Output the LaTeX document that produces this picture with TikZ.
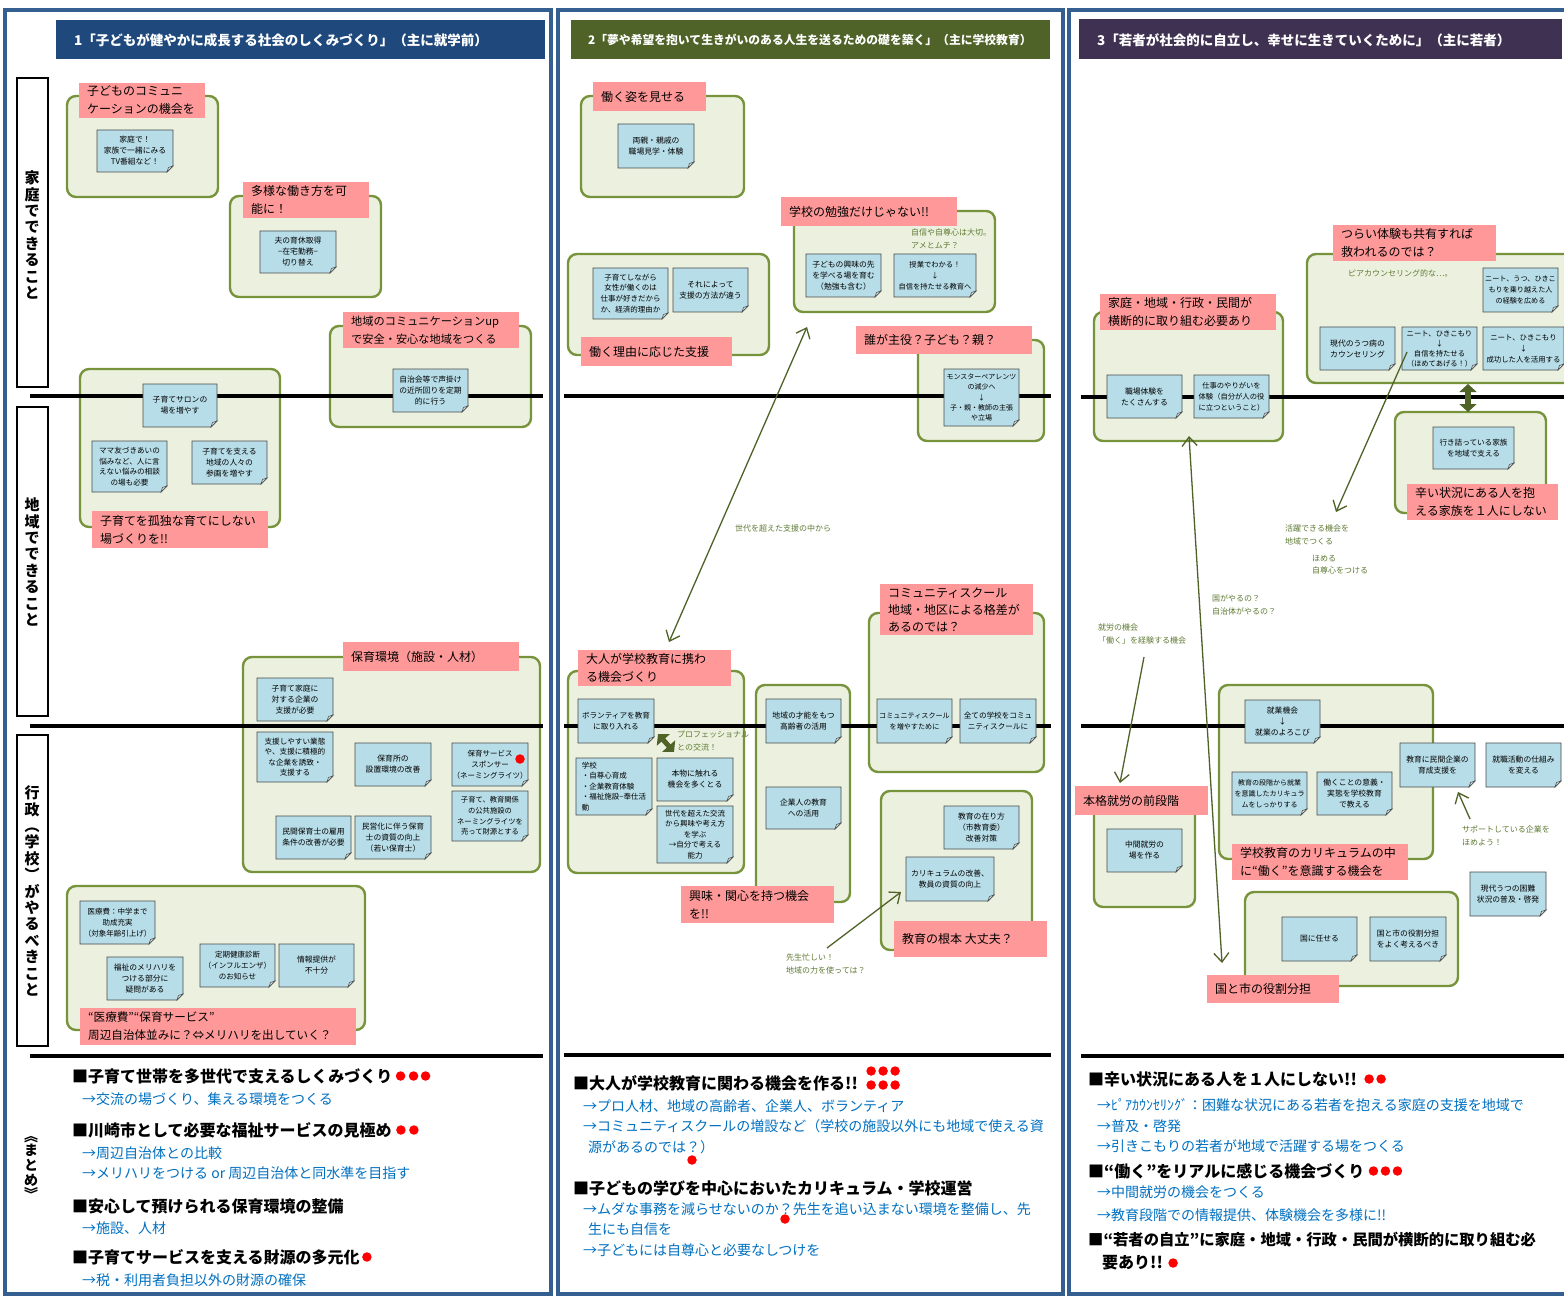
\documentclass[tikz,border=0pt]{standalone}
\usepackage{fontspec}
\setmainfont{Noto Sans CJK JP}
\usetikzlibrary{arrows.meta}
\definecolor{panelblue}{HTML}{365F91}
\definecolor{tone}{HTML}{1F497D}
\definecolor{ttwo}{HTML}{4F6228}
\definecolor{tthree}{HTML}{3F3151}
\definecolor{grpfill}{HTML}{EBF1DE}
\definecolor{grpedge}{HTML}{77933C}
\definecolor{pinkfill}{HTML}{FF9999}
\definecolor{notefill}{HTML}{B7DDE8}
\definecolor{noteedge}{HTML}{4A4A4A}
\definecolor{foldfill}{HTML}{DCEBF0}
\definecolor{annogreen}{HTML}{5F7A34}
\definecolor{arrowgreen}{HTML}{4F6228}
\definecolor{sumblue}{HTML}{0070C0}
\definecolor{dotred}{HTML}{FF0000}
\tikzset{
 panel/.style={draw=panelblue, line width=4.5pt, fill=white},
 gbox/.style={draw=grpedge, fill=grpfill, line width=2.4pt, rounded corners=9pt, inner sep=0pt},
 pinkbox/.style={fill=pinkfill, draw=none, inner sep=0pt},
 pinktext/.style={font=\fontsize{12}{18}\selectfont, align=left, inner sep=0pt, text=black},
 notebody/.style={fill=notefill, draw=noteedge, line width=0.8pt},
 notefold/.style={fill=foldfill, draw=noteedge, line width=0.6pt},
 notetext/.style={font=\fontsize{7.8}{11}\selectfont, align=center, inner sep=0pt},
 anno/.style={font=\fontsize{8}{12.5}\selectfont, text=annogreen, align=left, inner sep=0pt},
 arr/.style={draw=arrowgreen, line width=1.3pt, >={Straight Barb[length=9pt,width=15pt]}},
 fatarr/.style={draw=arrowgreen, line width=6pt, {Triangle[length=8pt,width=17pt]}-{Triangle[length=8pt,width=17pt]}},
 sumhead/.style={font=\fontsize{16}{20}\selectfont\bfseries, anchor=west, inner sep=0pt},
 sumblue/.style={font=\fontsize{14}{18}\selectfont, text=sumblue, anchor=west, inner sep=0pt},
 reddot/.style={circle, fill=dotred, minimum size=9.5pt, inner sep=0pt},
 hline/.style={line width=3.5pt, draw=black},
 titlebar/.style={inner sep=0pt, draw=none},
 titletext/.style={font=\fontsize{13.5}{16}\selectfont\bfseries, text=white, anchor=west, inner sep=0pt},
 vlab/.style={draw=black, line width=2pt, fill=white, inner sep=0pt},
 vtxt/.style={font=\fontsize{15}{16.4}\selectfont\bfseries, align=center, inner sep=0pt},
}
\newcommand\gbox[5]{\node[gbox, minimum width={(#4)-(#2)}, minimum height={(#5)-(#3)}] (#1) at ({((#2)+(#4))/2},{((#3)+(#5))/2}) {};}
\newcommand\snote[7][]{%
 \filldraw[notebody] (#3,#4) -- (#5,#4) -- (#5,{#6-6}) -- ({#5-6},#6) -- (#3,#6) -- cycle;
 \filldraw[notefold] (#5,{#6-6}) -- ({#5-6},#6) -- ({#5-4.5},{#6-4.5}) -- cycle;
 \node[notetext,#1] (#2) at ({(#3+#5)/2},{(#4+#6)/2}) {#7};}
\newcommand\plab[7][]{%
 \node[pinkbox, minimum width={(#5)-(#3)}, minimum height={(#6)-(#4)}] (#2) at ({(#3+#5)/2},{(#4+#6)/2}) {};
 \node[pinktext, anchor=west, #1] (#2t) at ({#3+8},{(#4+#6)/2}) {#7};}
\begin{document}
\begin{tikzpicture}[x=1pt,y=-1pt]
\useasboundingbox (0,0) rectangle (1564,1297);
\fill[white] (0,0) rectangle (1564,1297);
\clip (0,0) rectangle (1564,1297);
% panels
\draw[panel] (5,10) rectangle (551,1294);
\draw[panel] (558,10) rectangle (1063,1294);
\draw[panel] (1069,10) rectangle (1585,1294);
% title bars
\node[titlebar, fill=tone, minimum width=489, minimum height=39] (tb1) at (300.5,39.5) {};
\node[titletext] (tb1t) at (74,40) {1「子どもが健やかに成長する社会のしくみづくり」（主に就学前）};
\node[titlebar, fill=ttwo, minimum width=479, minimum height=39] (tb2) at (810.5,39.5) {};
\node[titletext, font=\fontsize{11.8}{16}\selectfont\bfseries] (tb2t) at (588,40) {2「夢や希望を抱いて生きがいのある人生を送るための礎を築く」（主に学校教育）};
\node[titlebar, fill=tthree, minimum width=483, minimum height=40] (tb3) at (1320.5,39) {};
\node[titletext, font=\fontsize{13.5}{16}\selectfont\bfseries] (tb3t) at (1097,40) {3「若者が社会的に自立し、幸せに生きていくために」（主に若者）};
% vertical labels
\node[vlab, minimum width=31, minimum height=309] (vl1) at (32,232.5) {};
\node[vtxt] (vl1t) at (32,235) {家\\庭\\で\\で\\き\\る\\こ\\と};
\node[vlab, minimum width=31, minimum height=309] (vl2) at (32,561.5) {};
\node[vtxt] (vl2t) at (32,562) {地\\域\\で\\で\\き\\る\\こ\\と};
\node[vlab, minimum width=31, minimum height=311] (vl3) at (32,890.5) {};
\node[vtxt] (vl3t) at (32,891) {行\\政\\︵\\学\\校\\︶\\が\\や\\る\\べ\\き\\こ\\と};
\node[vtxt, font=\fontsize{14}{14.6}\selectfont\bfseries] (mtm) at (31,1168) {︽\\ま\\と\\め\\︾};

% ===== group boxes =====
\gbox{bA}{67}{96}{218}{197}
\gbox{bB}{230}{196}{381}{297}
\gbox{bC}{330}{326}{531}{427}
\gbox{bD}{80}{369}{280}{527}
\gbox{bE}{243}{657}{540}{872}
\gbox{bF}{67}{886}{365}{1030}
\gbox{bG}{581}{96}{744}{197}
\gbox{bH}{568}{254}{769}{355}
\gbox{bI}{794}{211}{995}{312}
\gbox{bJ}{918}{340}{1044}{441}
\gbox{bK}{568}{671}{744}{873}
\gbox{bL}{756}{685}{850}{902}
\gbox{bM}{869}{613}{1044}{772}
\gbox{bN}{881}{791}{1032}{950}
\gbox{bO}{1094}{312}{1283}{441}
\gbox{bP}{1307}{254}{1585}{383}
\gbox{bQ}{1395}{412}{1546}{513}
\gbox{bR}{1094}{795}{1195}{907}
\gbox{bS}{1219}{685}{1433}{859}
\gbox{bT}{1245}{892}{1458}{986}

% ===== horizontal lines =====
\coordinate (h1a) at (30,396); \coordinate (h1b) at (543,396);
\coordinate (h2a) at (30,726); \coordinate (h2b) at (543,726);
\coordinate (h3a) at (30,1056); \coordinate (h3b) at (543,1056);
\coordinate (h4a) at (564,396); \coordinate (h4b) at (1051,396);
\coordinate (h5a) at (564,726); \coordinate (h5b) at (1051,726);
\coordinate (h6a) at (564,1055); \coordinate (h6b) at (1051,1055);
\coordinate (h7a) at (1081,397); \coordinate (h7b) at (1564,397);
\coordinate (h8a) at (1081,726); \coordinate (h8b) at (1564,726);
\coordinate (h9a) at (1081,1056); \coordinate (h9b) at (1564,1056);
\draw[hline] (h1a) -- (h1b); \draw[hline] (h2a) -- (h2b); \draw[hline] (h3a) -- (h3b);
\draw[hline] (h4a) -- (h4b); \draw[hline] (h5a) -- (h5b); \draw[hline] (h6a) -- (h6b);
\draw[hline] (h7a) -- (h7b); \draw[hline] (h8a) -- (h8b); \draw[hline] (h9a) -- (h9b);

% ===== column 1 notes =====
\snote{nA}{97}{130}{173}{172}{家庭で！\\家族で一緒にみる\\TV番組など！}
\snote{nB}{260}{231}{336}{273}{夫の育休取得\\−在宅勤務−\\切り替え}
\snote{nC}{393}{369}{468}{412}{自治会等で声掛け\\の近所回りを定期\\的に行う}
\snote{nD1}{143}{384}{217}{427}{子育てサロンの\\場を増やす}
\snote[font=\fontsize{7.6}{10.6}\selectfont]{nD2}{92}{441}{167}{492}{ママ友づきあいの\\悩みなど、人に言\\えない悩みの相談\\の場も必要}
\snote{nD3}{192}{441}{267}{484}{子育てを支える\\地域の人々の\\参画を増やす}
\snote{nE1}{257}{678}{333}{721}{子育て家庭に\\対する企業の\\支援が必要}
\snote[font=\fontsize{7.6}{10.6}\selectfont]{nE2}{257}{732}{333}{782}{支援しやすい業態\\や、支援に積極的\\な企業を誘致・\\支援する}
\snote{nE3}{355}{743}{431}{786}{保育所の\\設置環境の改善}
\snote[font=\fontsize{7.5}{11}\selectfont]{nE4}{452}{743}{528}{786}{保育サービス\\スポンサー\\（ネーミングライツ）}
\snote[font=\fontsize{7.3}{10.6}\selectfont]{nE5}{452}{791}{528}{841}{子育て、教育関係\\の公共施設の\\ネーミングライツを\\売って財源とする}
\snote{nE6}{276}{816}{351}{859}{民間保育士の雇用\\条件の改善が必要}
\snote{nE7}{355}{816}{431}{859}{民営化に伴う保育\\士の資質の向上\\（若い保育士）}
\node[reddot] (dE) at (520,759) {};
\snote[font=\fontsize{7.5}{11}\selectfont]{nF1}{80}{901}{155}{944}{医療費：中学まで\\助成充実\\（対象年齢引上げ）}
\snote{nF2}{107}{957}{183}{1000}{福祉のメリハリを\\つける部分に\\疑問がある}
\snote[font=\fontsize{7.5}{11}\selectfont]{nF3}{200}{944}{275}{987}{定期健康診断\\（インフルエンザ）\\のお知らせ}
\snote{nF4}{279}{944}{354}{987}{情報提供が\\不十分}

% ===== column 2 notes =====
\snote{nG}{618}{124}{694}{168}{両親・親戚の\\職場見学・体験}
\snote[font=\fontsize{7.5}{10.8}\selectfont]{nH1}{593}{268}{668}{319}{子育てしながら\\女性が働くのは\\仕事が好きだから\\か、経済的理由か}
\snote{nH2}{673}{268}{748}{312}{それによって\\支援の方法が違う}
\snote{nI1}{806}{254}{881}{297}{子どもの興味の先\\を学べる場を育む\\（勉強も含む）}
\snote[font=\fontsize{7.3}{11}\selectfont]{nI2}{894}{254}{976}{297}{授業でわかる！\\↓\\自信を持たせる教育へ}
\snote[font=\fontsize{7}{10.3}\selectfont]{nJ}{944}{369}{1019}{426}{モンスターペアレンツ\\の減少へ\\↓\\子・親・教師の主張\\や立場}
\snote[font=\fontsize{7.6}{11}\selectfont]{nK1}{578}{699}{654}{743}{ボランティアを教育\\に取り入れる}
\snote[align=left, font=\fontsize{7.5}{10.6}\selectfont]{nK2}{576}{758}{652}{815}{学校\\・自尊心育成\\・企業教育体験\\・福祉施設−奉仕活\\動}
\snote{nK3}{657}{758}{733}{801}{本物に触れる\\機会を多くとる}
\snote[font=\fontsize{7.5}{10.6}\selectfont]{nK4}{657}{806}{733}{863}{世代を超えた交流\\から興味や考え方\\を学ぶ\\→自分で考える\\能力}
\snote{nL1}{766}{699}{841}{743}{地域の才能をもつ\\高齢者の活用}
\snote{nL2}{766}{787}{841}{829}{企業人の教育\\への活用}
\snote[font=\fontsize{7.1}{11}\selectfont]{nM1}{877}{699}{952}{743}{コミュニティスクール\\を増やすために}
\snote[font=\fontsize{7.6}{11}\selectfont]{nM2}{960}{699}{1036}{743}{全ての学校をコミュ\\ニティスクールに}
\snote{nN1}{944}{806}{1019}{849}{教育の在り方\\（市教育委）\\改善対策}
\snote{nN2}{906}{857}{994}{901}{カリキュラムの改善、\\教員の資質の向上}

% ===== column 3 notes =====
\snote{nO1}{1107}{375}{1182}{418}{職場体験を\\たくさんする}
\snote[font=\fontsize{7.3}{11}\selectfont]{nO2}{1194}{375}{1269}{418}{仕事のやりがいを\\体験（自分が人の役\\に立つということ）}
\snote[font=\fontsize{7.1}{11}\selectfont]{nP1}{1483}{268}{1558}{312}{ニート、うつ、ひきこ\\もりを乗り越えた人\\の経験を広める}
\snote{nP2}{1320}{327}{1395}{370}{現代のうつ病の\\カウンセリング}
\snote[font=\fontsize{7.3}{10}\selectfont]{nP3}{1402}{327}{1477}{370}{ニート、ひきこもり\\↓\\自信を持たせる\\（ほめてあげる！）}
\snote[font=\fontsize{7.4}{11}\selectfont]{nP4}{1483}{327}{1564}{370}{ニート、ひきこもり\\↓\\成功した人を活用する}
\snote[font=\fontsize{7.6}{11}\selectfont]{nQ}{1433}{427}{1514}{469}{行き詰っている家族\\を地域で支える}
\snote{nR}{1107}{829}{1182}{872}{中間就労の\\場を作る}
\snote{nS1}{1245}{700}{1320}{743}{就業機会\\↓\\就業のよろこび}
\snote[font=\fontsize{7}{11}\selectfont]{nS2}{1232}{772}{1307}{815}{教育の段階から就業\\を意識したカリキュラ\\ムをしっかりする}
\snote{nS3}{1317}{772}{1392}{815}{働くことの意義・\\実態を学校教育\\で教える}
\snote{nS4}{1400}{743}{1475}{787}{教育に民間企業の\\育成支援を}
\snote{nS5}{1486}{743}{1561}{787}{就職活動の仕組み\\を変える}
\snote{nS6}{1470}{872}{1546}{916}{現代うつの困難\\状況の普及・啓発}
\snote{nT1}{1282}{917}{1357}{961}{国に任せる}
\snote{nT2}{1370}{917}{1446}{961}{国と市の役割分担\\をよく考えるべき}

% ===== pink labels =====
\plab{pA}{79}{83}{205}{118}{子どものコミュニ\\ケーションの機会を}
\plab{pB}{243}{182}{369}{218}{多様な働き方を可\\能に！}
\plab[font=\fontsize{11.2}{18}\selectfont]{pC}{343}{312}{519}{348}{地域のコミュニケーションup\\で安全・安心な地域をつくる}
\plab{pD}{92}{511}{268}{548}{子育てを孤独な育てにしない\\場づくりを!!}
\plab{pE}{343}{642}{519}{671}{保育環境（施設・人材）}
\plab[font=\fontsize{11.6}{18}\selectfont]{pF}{80}{1008}{356}{1045}{“医療費”“保育サービス”\\周辺自治体並みに？⇔メリハリを出していく？}
\plab{pG}{593}{82}{706}{111}{働く姿を見せる}
\plab{pH}{581}{337}{732}{366}{働く理由に応じた支援}
\plab{pI}{781}{197}{957}{226}{学校の勉強だけじゃない!!}
\plab{pJ}{856}{326}{1032}{354}{誰が主役？子ども？親？}
\plab{pK}{578}{650}{731}{686}{大人が学校教育に携わ\\る機会づくり}
\plab{pL}{681}{886}{834}{923}{興味・関心を持つ機会\\を!!}
\plab[font=\fontsize{12}{17}\selectfont]{pM}{880}{584}{1033}{635}{コミュニティスクール\\地域・地区による格差が\\あるのでは？}
\plab{pN}{894}{921}{1047}{957}{教育の根本 大丈夫？}
\plab{pO}{1100}{294}{1276}{330}{家庭・地域・行政・民間が\\横断的に取り組む必要あり}
\plab{pP}{1333}{225}{1496}{261}{つらい体験も共有すれば\\救われるのでは？}
\plab{pQ}{1407}{484}{1558}{520}{辛い状況にある人を抱\\える家族を１人にしない}
\plab{pR}{1075}{786}{1208}{815}{本格就労の前段階}
\plab{pS}{1232}{844}{1408}{880}{学校教育のカリキュラムの中\\に“働く”を意識する機会を}
\plab{pT}{1207}{975}{1339}{1003}{国と市の役割分担}

% ===== annotations =====
\node[anno, anchor=north west] (an1) at (911,229) {自信や自尊心は大切。\\アメとムチ？};
\node[anno, anchor=west] (an2) at (735,528) {世代を超えた支援の中から};
\node[anno, anchor=north west] (an3) at (677,731) {プロフェッショナル\\との交流！};
\node[anno, anchor=north west] (an4) at (786,954) {先生忙しい！\\地域の力を使っては？};
\node[anno, anchor=west] (an5) at (1348,273) {ピアカウンセリング的な…。};
\node[anno, anchor=north west] (an6) at (1285,525) {活躍できる機会を\\地域でつくる};
\node[anno, anchor=north west] (an7) at (1312,555) {ほめる\\自尊心をつける};
\node[anno, anchor=north west] (an8) at (1212,595) {国がやるの？\\自治体がやるの？};
\node[anno, anchor=north west] (an9) at (1098,624) {就労の機会\\「働く」を経験する機会};
\node[anno, anchor=north west] (an10) at (1462,826) {サポートしている企業を\\ほめよう！};

% ===== arrows =====
\coordinate (c2a) at (807,327); \coordinate (c2b) at (669,642);
\draw[arr, <->] (c2a) -- (c2b);
\coordinate (c3a) at (827,948); \coordinate (c3b) at (901,892);
\draw[arr, ->] (c3a) -- (c3b);
\coordinate (fk1) at (658,734); \coordinate (fk2) at (674,752);
\draw[fatarr, line width=5pt] (fk1) -- (fk2);
\coordinate (fq1) at (1468,384); \coordinate (fq2) at (1468,412);
\draw[fatarr] (fq1) -- (fq2);
\coordinate (c4a) at (1407,352); \coordinate (c4b) at (1336,512);
\draw[arr, ->] (c4a) -- (c4b);
\coordinate (c5a) at (1189,436); \coordinate (c5b) at (1222,963);
\draw[arr, <->] (c5a) -- (c5b);
\coordinate (c6a) at (1144,657); \coordinate (c6b) at (1120,783);
\draw[arr, ->] (c6a) -- (c6b);
\coordinate (c7a) at (1470,819); \coordinate (c7b) at (1458,792);
\draw[arr, ->] (c7a) -- (c7b);

% ===== summaries =====
\node[sumhead] (s1a) at (72,1076) {■子育て世帯を多世代で支えるしくみづくり};
\node[reddot] (d1a) at ([xshift=8pt]s1a.east) {};
\node[reddot] (d1b) at ([xshift=21pt]s1a.east) {};
\node[reddot] (d1c) at ([xshift=33pt]s1a.east) {};
\node[sumblue] (s1b) at (82,1099) {→交流の場づくり、集える環境をつくる};
\node[sumhead] (s1c) at (72,1130) {■川崎市として必要な福祉サービスの見極め};
\node[reddot] (d1d) at ([xshift=9pt]s1c.east) {};
\node[reddot] (d1e) at ([xshift=22pt]s1c.east) {};
\node[sumblue] (s1d) at (82,1153) {→周辺自治体との比較};
\node[sumblue] (s1e) at (82,1173) {→メリハリをつける or 周辺自治体と同水準を目指す};
\node[sumhead] (s1f) at (72,1206) {■安心して預けられる保育環境の整備};
\node[sumblue] (s1g) at (82,1228) {→施設、人材};
\node[sumhead] (s1h) at (72,1257) {■子育てサービスを支える財源の多元化};
\node[reddot] (d1f) at ([xshift=7pt]s1h.east) {};
\node[sumblue] (s1i) at (82,1280) {→税・利用者負担以外の財源の確保};

\node[sumhead] (s2a) at (573,1083) {■大人が学校教育に関わる機会を作る!!};
\node[reddot] (d2a) at ([xshift=13pt,yshift=12pt]s2a.east) {};
\node[reddot] (d2b) at ([xshift=25pt,yshift=12pt]s2a.east) {};
\node[reddot] (d2c) at ([xshift=37pt,yshift=12pt]s2a.east) {};
\node[reddot] (d2d) at ([xshift=13pt,yshift=-2pt]s2a.east) {};
\node[reddot] (d2e) at ([xshift=25pt,yshift=-2pt]s2a.east) {};
\node[reddot] (d2f) at ([xshift=37pt,yshift=-2pt]s2a.east) {};
\node[sumblue] (s2b) at (583,1106) {→プロ人材、地域の高齢者、企業人、ボランティア};
\node[sumblue] (s2c) at (583,1126) {→コミュニティスクールの増設など（学校の施設以外にも地域で使える資};
\node[sumblue] (s2d) at (588,1147) {源があるのでは？）};
\node[reddot] (d2g) at (692,1160) {};
\node[sumhead] (s2e) at (573,1188) {■子どもの学びを中心においたカリキュラム・学校運営};
\node[sumblue] (s2f) at (583,1209) {→ムダな事務を減らせないのか？先生を追い込まない環境を整備し、先};
\node[reddot] (d2h) at (785,1219) {};
\node[sumblue] (s2g) at (588,1229) {生にも自信を};
\node[sumblue] (s2h) at (583,1250) {→子どもには自尊心と必要なしつけを};

\node[sumhead] (s3a) at (1088,1079) {■辛い状況にある人を１人にしない!!};
\node[reddot] (d3a) at ([xshift=12pt]s3a.east) {};
\node[reddot] (d3b) at ([xshift=24pt]s3a.east) {};
\node[sumblue] (s3b) at (1097,1105) {→ﾋﾟｱｶｳﾝｾﾘﾝｸﾞ：困難な状況にある若者を抱える家庭の支援を地域で};
\node[sumblue] (s3c) at (1097,1126) {→普及・啓発};
\node[sumblue] (s3d) at (1097,1146) {→引きこもりの若者が地域で活躍する場をつくる};
\node[sumhead] (s3e) at (1088,1171) {■“働く”をリアルに感じる機会づくり};
\node[reddot] (d3c) at ([xshift=9pt]s3e.east) {};
\node[reddot] (d3d) at ([xshift=21pt]s3e.east) {};
\node[reddot] (d3e) at ([xshift=33pt]s3e.east) {};
\node[sumblue] (s3f) at (1097,1192) {→中間就労の機会をつくる};
\node[sumblue] (s3g) at (1097,1215) {→教育段階での情報提供、体験機会を多様に!!};
\node[sumhead, font=\fontsize{15.3}{20}\selectfont\bfseries] (s3h) at (1088,1240) {■“若者の自立”に家庭・地域・行政・民間が横断的に取り組む必};
\node[sumhead] (s3i) at (1102,1263) {要あり!!};
\node[reddot] (d3f) at ([xshift=10pt]s3i.east) {};
\end{tikzpicture}
\end{document}
